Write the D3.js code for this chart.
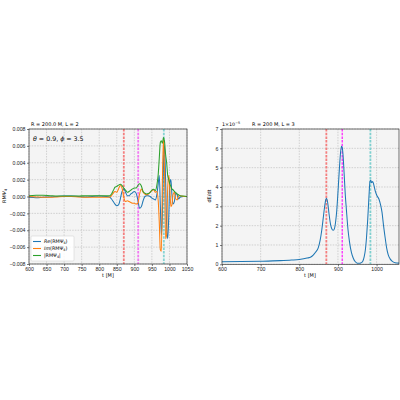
<!DOCTYPE html>
<html lang='en'>
<head>
	<meta charset='UTF-8'/>
	<title>Psi4 and dE/dt</title>
	<script src='https://cdnjs.cloudflare.com/ajax/libs/d3/7.8.5/d3.min.js'></script>
	<style>
		body {margin: 0; background: #fff;}
		svg {display: block; font-family: 'DejaVu Sans', sans-serif;}
		.tick text {font-size: 5.2px; fill: #222;}
		.tick line {stroke: #222; stroke-width: 0.6;}
		.domain {display: none;}
	</style>
</head>
<body>
	<div class='graph'></div>
	<script>
		// left panel: R M Psi4 (units of 1e-3)
		const tPsi = [600, 620, 640, 660, 680, 700, 720, 740, 760, 780, 800, 820,
			830, 835, 840, 845, 850, 855, 860, 865, 870, 875, 880, 885, 890, 895, 900,
			905, 910, 915, 920, 925, 930, 935, 940, 945, 950, 955, 960, 964, 968,
			971, 974, 977, 980, 983, 986, 989, 992, 995, 998, 1001, 1004, 1007, 1010,
			1014, 1018, 1022, 1026, 1030, 1040, 1050];
		const rePsi = [-0.1, -0.15, -0.1, -0.05, 0.0, 0.05, 0.05, 0.0, -0.05, 0.0, 0.05, 0.0,
			-0.1, -0.3, -0.6, -0.9, -1.1, -1.0, -0.3, 0.6, 0.9, 0.5, 0.1, 0.1, 0.3, 0.45, 0.6,
			0.4, -0.4, -1.4, -1.2, -0.5, 0.0, 0.1, 0.1, 0.0, -0.2, -0.3, -0.4, 0.2, 1.5,
			2.5, -1.0, -4.6, -2.0, 4.0, 6.0, 2.0, -3.5, -5.0, -2.5, 1.5, 2.0, 0.3, -0.9,
			-0.6, 0.4, 0.2, -0.3, -0.1, 0.0, 0.0];
		const imPsi = [0.0, -0.05, -0.1, -0.1, -0.05, 0.0, 0.0, -0.05, -0.1, -0.1, -0.1, -0.1,
			-0.05, 0.1, 0.4, 0.6, 0.5, 0.9, 1.3, 1.0, -0.1, -0.6, -0.5, -0.6, -0.7, -0.8, -0.8,
			-0.9, -0.8, 0.3, 0.9, 0.5, 0.3, 0.2, 0.3, 0.5, 0.7, 0.8, 0.5, 0.6, -0.5,
			-3.0, -6.3, -6.5, 2.0, 6.8, 3.0, -5.0, -4.5, 1.0, 2.5, 1.0, -1.2, -1.0, 0.2,
			0.5, -0.3, -0.4, 0.1, 0.1, 0.0, 0.0];
		const absPsi = [0.1, 0.15, 0.15, 0.1, 0.05, 0.05, 0.05, 0.05, 0.1, 0.1, 0.1, 0.1,
			0.1, 0.3, 0.7, 1.1, 1.2, 1.35, 1.45, 1.3, 1.0, 0.75, 0.5, 0.6, 0.75, 0.9, 1.0,
			1.0, 1.3, 1.5, 1.25, 0.6, 0.4, 0.3, 0.35, 0.5, 0.75, 0.85, 0.7, 1.3, 2.6,
			4.5, 6.4, 6.6, 6.3, 7.0, 6.5, 5.0, 4.0, 2.5, 2.0, 1.5, 1.2, 0.9, 0.8,
			0.6, 0.45, 0.3, 0.2, 0.1, 0.05, 0.0];

		// right panel: dE/dt (units of 1e-5)
		const tFlux = [600, 650, 700, 750, 780, 800, 820, 830, 836, 842, 849, 854, 858,
			862, 865, 868, 870, 873, 877, 881, 885, 888, 891, 894, 897, 900, 903, 906,
			909, 911, 913, 916, 919, 922, 926, 930, 935, 940, 945, 950, 955, 960, 964,
			968, 971, 974, 977, 980, 983, 985, 987, 990, 993, 997, 1001, 1006, 1010,
			1014, 1018, 1022, 1026, 1030, 1035, 1040, 1048, 1058];
		const dEdt = [0.13, 0.14, 0.16, 0.19, 0.22, 0.25, 0.32, 0.38, 0.48, 0.62, 0.85, 1.25, 1.75,
			2.4, 2.9, 3.3, 3.42, 3.25, 2.6, 2.05, 1.8, 1.76, 1.85, 2.2, 2.8, 3.7, 4.7, 5.6,
			6.1, 6.05, 5.7, 4.7, 3.6, 2.8, 1.8, 1.15, 0.6, 0.3, 0.13, 0.06, 0.05, 0.08, 0.15,
			0.4, 0.75, 1.4, 2.3, 3.4, 4.3, 4.35, 4.22, 4.28, 4.1, 3.76, 3.55, 3.38, 3.1,
			2.7, 2.0, 1.4, 0.85, 0.5, 0.28, 0.16, 0.08, 0.06];

		const eventTimes = [870, 911, 984];
		const psiTicksX = [600, 650, 700, 750, 800, 850, 900, 950, 1000, 1050];
		const psiTicksY = [-8, -6, -4, -2, 0, 2, 4, 6, 8];
		const fluxTicksX = [600, 700, 800, 900, 1000];
		const fluxTicksY = [0, 1, 2, 3, 4, 5, 6, 7];
		const legendLabels = [['Re', '(RMΨ', '4', ')'], ['Im', '(RMΨ', '4', ')'], ['', '|RMΨ', '4', '|']];

		const colours = ['#1f77b4', '#ff7f0e', '#2ca02c'];

		const width = 400, height = 400;
		const svg = d3.select('.graph').append('svg')
			.attr('width', width)
			.attr('height', height);

		// shared panel builder
		function panel(id, box, xDomain, yDomain, xTicks, yTicks, yFmt) {
			const x = d3.scaleLinear().domain(xDomain).range([box.left, box.right]);
			const y = d3.scaleLinear().domain(yDomain).range([box.bottom, box.top]);
			const g = svg.append('g').attr('id', id);
			g.append('rect')
				.attr('x', box.left).attr('y', box.top)
				.attr('width', box.right - box.left).attr('height', box.bottom - box.top)
				.attr('fill', '#f4f4f4');
			g.append('clipPath').attr('id', id + '-clip')
				.append('rect')
				.attr('x', box.left).attr('y', box.top)
				.attr('width', box.right - box.left).attr('height', box.bottom - box.top);
			// grid
			g.selectAll('.vgrid').data(xTicks).enter().append('line')
				.attr('x1', d => x(d)).attr('x2', d => x(d))
				.attr('y1', box.top).attr('y2', box.bottom)
				.attr('stroke', '#b8b8b8').attr('stroke-width', 0.6).attr('stroke-dasharray', '1.5,1.2');
			g.selectAll('.hgrid').data(yTicks).enter().append('line')
				.attr('y1', d => y(d)).attr('y2', d => y(d))
				.attr('x1', box.left).attr('x2', box.right)
				.attr('stroke', '#b8b8b8').attr('stroke-width', 0.6).attr('stroke-dasharray', '1.5,1.2');
			g.append('g')
				.attr('transform', 'translate(0,' + box.bottom + ')')
				.call(d3.axisBottom(x).tickValues(xTicks).tickSize(2).tickPadding(1.5).tickFormat(d3.format('d')));
			g.append('g')
				.attr('transform', 'translate(' + box.left + ',0)')
				.call(d3.axisLeft(y).tickValues(yTicks).tickSize(2).tickPadding(1.5).tickFormat(yFmt));
			const plot = g.append('g').attr('clip-path', 'url(#' + id + '-clip)');
			return {x, y, g, plot, box};
		}

		function frame(p) {
			p.g.append('rect')
				.attr('x', p.box.left).attr('y', p.box.top)
				.attr('width', p.box.right - p.box.left).attr('height', p.box.bottom - p.box.top)
				.attr('fill', 'none').attr('stroke', '#333').attr('stroke-width', 0.7);
		}

		function eventLines(p, styles) {
			p.plot.selectAll('.ev').data(eventTimes).enter().append('line')
				.attr('x1', d => p.x(d)).attr('x2', d => p.x(d))
				.attr('y1', p.box.top).attr('y2', p.box.bottom)
				.attr('stroke', (d, i) => styles[i].c)
				.attr('stroke-width', (d, i) => styles[i].w)
				.attr('stroke-dasharray', '2.5,1.2');
		}

		// ---- left panel
		const left = panel('psi', {left: 29, right: 187, top: 129, bottom: 264},
			[600, 1050], [-8, 8], psiTicksX, psiTicksY,
			d => (d < 0 ? '\u2212' : '') + (Math.abs(d) / 1000).toFixed(3));

		eventLines(left, [{c: '#f47f7f', w: 1.8}, {c: '#f27af2', w: 1.8}, {c: '#85d4d4', w: 1.8}]);

		[rePsi, imPsi, absPsi].forEach((series, k) => {
			left.plot.append('path')
				.datum(series)
				.attr('fill', 'none')
				.attr('stroke', colours[k])
				.attr('stroke-width', 1.05)
				.attr('stroke-linejoin', 'round')
				.attr('d', d3.line().curve(d3.curveMonotoneX).x((d, i) => left.x(tPsi[i])).y(d => left.y(d)));
		});
		frame(left);

		svg.append('text').attr('x', 31).attr('y', 125.5)
			.style('font-size', '5px').text('R = 200.0 M, L = 2');
		const ann = svg.append('text').attr('x', 33).attr('y', 140.5).style('font-size', '6.3px');
		ann.append('tspan').style('font-style', 'italic').text('θ');
		ann.append('tspan').text(' = 0.9, ');
		ann.append('tspan').style('font-style', 'italic').text('ϕ');
		ann.append('tspan').text(' = 3.5');

		const yl = svg.append('text')
			.attr('transform', 'translate(6,196) rotate(-90)')
			.attr('text-anchor', 'middle').style('font-size', '5px');
		yl.append('tspan').text('RMΨ');
		yl.append('tspan').attr('dy', 1.2).style('font-size', '3.6px').text('4');
		svg.append('text').attr('x', 108).attr('y', 277)
			.attr('text-anchor', 'middle').style('font-size', '5px').text('t [M]');

		// legend
		const lg = svg.append('g').attr('id', 'legend');
		lg.append('rect').attr('x', 31).attr('y', 236).attr('width', 43).attr('height', 25)
			.attr('rx', 1).attr('fill', '#fff').attr('fill-opacity', 0.85)
			.attr('stroke', '#ccc').attr('stroke-width', 0.5);
		legendLabels.forEach((lab, i) => {
			const yy = 241.5 + i * 7;
			lg.append('line').attr('x1', 33).attr('x2', 41).attr('y1', yy).attr('y2', yy)
				.attr('stroke', colours[i]).attr('stroke-width', 1.1);
			const t = lg.append('text').attr('x', 44).attr('y', yy + 1.8)
				.style('font-size', '4.8px').style('font-style', 'italic');
			t.append('tspan').text(lab[0]);
			t.append('tspan').style('font-style', 'normal').text(lab[1]);
			t.append('tspan').attr('dy', 1).style('font-size', '3.4px').style('font-style', 'normal').text(lab[2]);
			t.append('tspan').attr('dy', -1).style('font-style', 'normal').text(lab[3]);
		});

		// ---- right panel
		const right = panel('flux', {left: 222, right: 399, top: 129, bottom: 264.3},
			[600, 1058], [0, 7], fluxTicksX, fluxTicksY, d3.format('d'));

		eventLines(right, [{c: '#f47f7f', w: 1.8}, {c: '#ff00ff', w: 1.1}, {c: '#7fcfcf', w: 1.8}]);

		right.plot.append('path')
			.datum(dEdt)
			.attr('fill', 'none')
			.attr('stroke', colours[0])
			.attr('stroke-width', 1.05)
			.attr('d', d3.line().curve(d3.curveMonotoneX).x((d, i) => right.x(tFlux[i])).y(d => right.y(d)));
		frame(right);

		const off = svg.append('text').attr('x', 222).attr('y', 125.5).style('font-size', '4.8px');
		off.append('tspan').text('1\u00d710');
		off.append('tspan').attr('dy', -1.8).style('font-size', '3.4px').text('\u22125');
		svg.append('text').attr('x', 252).attr('y', 125.5)
			.style('font-size', '5px').text('R = 200 M, L = 3');
		svg.append('text')
			.attr('transform', 'translate(211,196) rotate(-90)')
			.attr('text-anchor', 'middle').style('font-size', '5px').text('dE/dt');
		svg.append('text').attr('x', 310).attr('y', 277)
			.attr('text-anchor', 'middle').style('font-size', '5px').text('t [M]');
	</script>
</body>
</html>
